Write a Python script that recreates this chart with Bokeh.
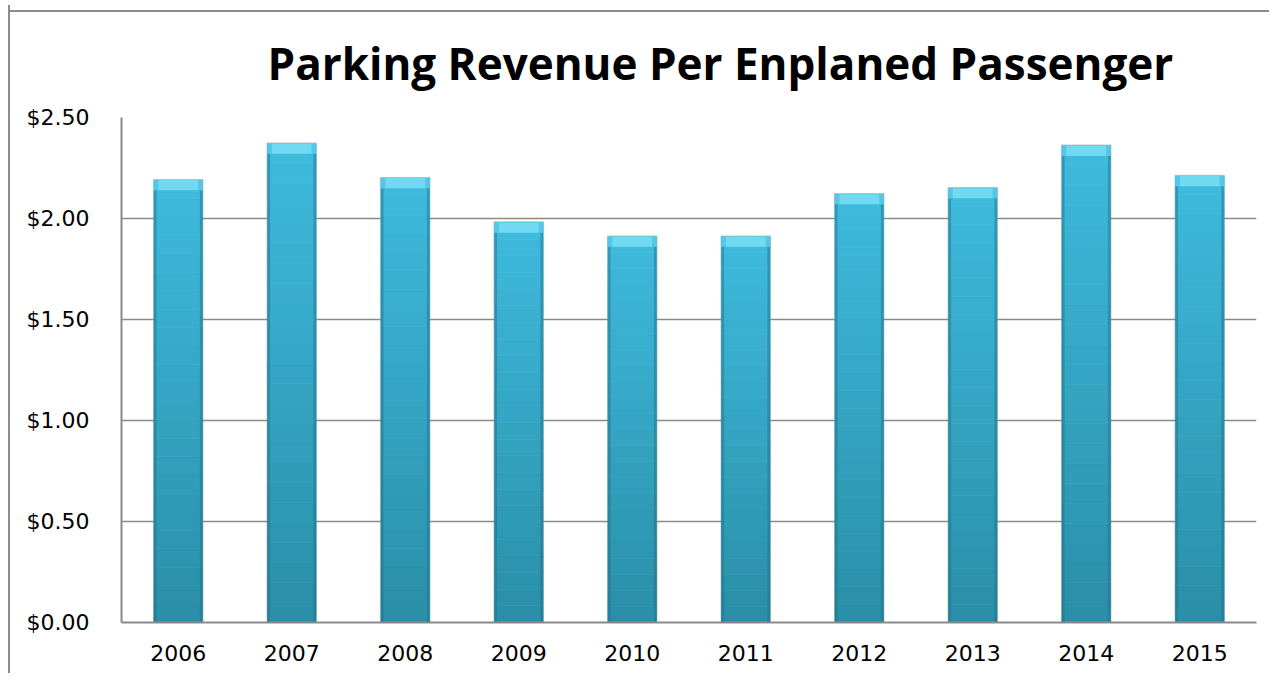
from bokeh.plotting import figure
from bokeh.embed import file_html
from bokeh.resources import INLINE
from bokeh.models import FixedTicker, NumeralTickFormatter, ColumnDataSource
from bokeh.transform import dodge
import numpy as np

years = ["2006", "2007", "2008", "2009", "2010", "2011", "2012", "2013", "2014", "2015"]
revenue = [2.19, 2.37, 2.20, 1.98, 1.91, 1.91, 2.12, 2.15, 2.36, 2.21]
y_ticks = [0.0, 0.5, 1.0, 1.5, 2.0, 2.5]

p = figure(x_range=years, y_range=(0, 2.5), output_backend="svg", toolbar_location=None,
           frame_width=1135, frame_height=505,
           min_border_left=111, min_border_right=13, min_border_top=112, min_border_bottom=51,
           title="Parking Revenue Per Enplaned Passenger")
p.styles = {"border-left": "2px solid #8c8c8c",
            "margin-left": "8px", "margin-top": "5px",
            "background": "linear-gradient(#8c8c8c, #8c8c8c) 0px 5px / 100% 2px no-repeat, white"}
p.background_fill_color = "white"
p.border_fill_color = "white"
p.border_fill_alpha = 0.0
p.outline_line_color = None

p.title.align = "left"
p.title.text_font = "Open Sans"
p.title.text_font_style = "bold"
p.title.text_font_size = "44px"
p.title.text_color = "black"
p.title.offset = 146
p.title.standoff = 49

BW = 0.43
vals = np.array(revenue)

# soft shadow
p.vbar(x=years, top=vals + 0.006, bottom=0, width=BW + 0.012, fill_color="#7f7f7f",
       fill_alpha=0.45, line_color=None)

# vertical gradient body
N = 24
c_bot = np.array([0x2a, 0x8f, 0xa8])
c_top = np.array([0x3f, 0xbb, 0xde])
for i in range(N):
    t = (i + 0.5) / N
    c = (c_bot * (1 - t) + c_top * t).astype(int)
    col = "#%02x%02x%02x" % tuple(c)
    p.vbar(x=years, bottom=vals * i / N, top=vals * (i + 1) / N, width=BW,
           fill_color=col, line_color=col, line_width=0.5)

src = ColumnDataSource(dict(year=years, top=vals, bevel=vals - 0.05))
# darker side edges
for off in (-BW / 2 + 0.012, BW / 2 - 0.012):
    p.vbar(x=dodge("year", off, range=p.x_range), top="bevel", bottom=0, width=0.024,
           source=src, fill_color="#1f6f85", fill_alpha=0.45, line_color=None)
# top bevel
p.vbar(x="year", top="top", bottom="bevel", width=BW, source=src,
       fill_color="#52c8e6", line_color=None)
p.vbar(x="year", top="top", bottom="bevel", width=BW - 0.08, source=src,
       fill_color="#7fe0f5", fill_alpha=0.7, line_color=None)

p.yaxis.ticker = FixedTicker(ticks=y_ticks)
p.yaxis.formatter = NumeralTickFormatter(format="$0.00")
p.ygrid.ticker = FixedTicker(ticks=y_ticks)
p.ygrid.grid_line_color = "#8a8a8a"
p.ygrid.grid_line_width = 1.5
p.xgrid.grid_line_color = None

for ax in (p.xaxis, p.yaxis):
    ax.axis_line_color = "#8a8a8a"
    ax.axis_line_width = 2
    ax.major_tick_line_color = None
    ax.minor_tick_line_color = None
    ax.major_label_text_font = "DejaVu Sans"
    ax.major_label_text_font_size = "22px"
    ax.major_label_text_color = "black"
p.yaxis.major_label_standoff = 26
p.xaxis.major_label_standoff = 16

open("out.html", "w").write(file_html(p, INLINE))
